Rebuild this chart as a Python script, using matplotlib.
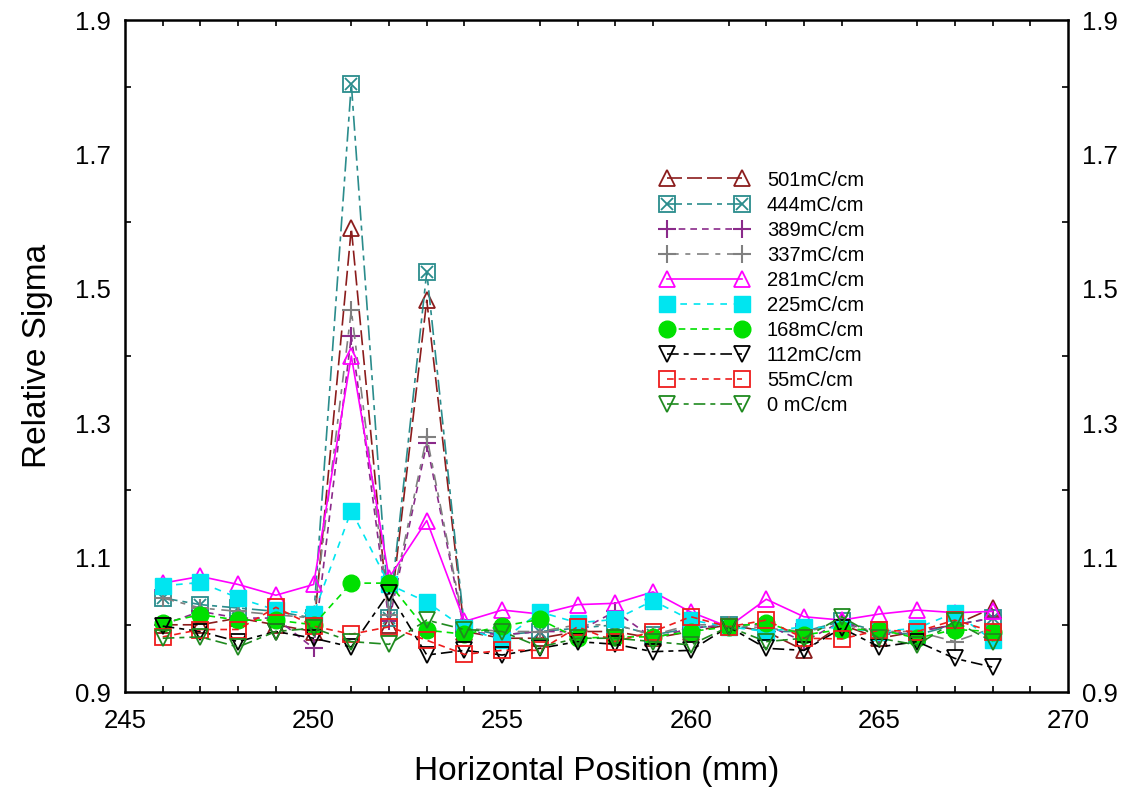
import numpy as np
import matplotlib
matplotlib.use("Agg")
import matplotlib.pyplot as plt
from matplotlib.ticker import MultipleLocator, FixedLocator
from matplotlib.legend_handler import HandlerTuple

plt.rcParams['font.family'] = ['Liberation Sans', 'DejaVu Sans']

# posicoes horizontais (mm)
pos = np.arange(246, 269)

labels = ["501mC/cm", "444mC/cm", "389mC/cm", "337mC/cm", "281mC/cm",
          "225mC/cm", "168mC/cm", "112mC/cm", "55mC/cm", "0 mC/cm"]

s501 = [1.00, 1.00, 1.01, 1.00, 0.99, 1.59, 1.00, 1.483, 0.99, 0.98, 0.98, 0.99,
        0.99, 0.98, 0.99, 1.00, 0.99, 0.962, 1.00, 0.98, 0.99, 1.00, 1.025]
s444 = [1.04, 1.03, 1.025, 1.02, 1.01, 1.805, 1.01, 1.525, 0.995, 0.985, 0.99, 0.995,
        1.00, 0.985, 0.995, 1.00, 0.99, 0.99, 1.005, 0.99, 0.985, 1.00, 1.01]
s389 = [1.00, 1.02, 1.01, 1.01, 0.965, 1.43, 1.005, 1.27, 0.99, 0.985, 0.99, 0.99,
        1.02, 0.98, 0.995, 1.00, 1.00, 0.975, 1.005, 0.985, 0.99, 1.00, 1.01]
s337 = [1.04, 1.025, 1.02, 1.015, 1.01, 1.468, 1.015, 1.28, 0.995, 0.99, 0.99, 1.00,
        1.00, 0.985, 1.00, 1.00, 0.995, 0.99, 1.00, 0.99, 0.99, 0.975, 0.995]
s281 = [1.062, 1.072, 1.06, 1.044, 1.06, 1.40, 1.07, 1.155, 1.005, 1.022, 1.016, 1.03,
        1.032, 1.049, 1.019, 0.997, 1.038, 1.012, 1.007, 1.016, 1.022, 1.018, 1.02]
s225 = [1.058, 1.063, 1.04, 1.022, 1.016, 1.17, 1.06, 1.034, 0.995, 0.977, 1.019, 1.003,
        1.008, 1.036, 1.007, 0.997, 0.99, 0.997, 0.995, 0.99, 0.995, 1.018, 0.977]
s168 = [1.003, 1.015, 1.007, 1.007, 1.0, 1.062, 1.062, 0.992, 0.986, 0.998, 1.008, 0.98,
        0.982, 0.982, 0.99, 0.997, 1.003, 0.985, 0.993, 0.993, 0.98, 0.993, 0.99]
s112 = [0.998, 0.99, 0.975, 0.99, 0.98, 0.967, 1.048, 0.955, 0.962, 0.955, 0.965, 0.975,
        0.971, 0.96, 0.962, 0.997, 0.965, 0.962, 0.995, 0.967, 0.975, 0.95, 0.937]
s55 = [0.982, 0.993, 0.993, 1.026, 0.998, 0.986, 0.997, 0.977, 0.956, 0.962, 0.962, 0.997,
       0.975, 0.99, 1.012, 0.997, 1.007, 0.98, 0.979, 0.992, 0.99, 1.007, 0.99]
s0 = [0.98, 0.982, 0.967, 0.99, 0.995, 0.975, 0.971, 1.007, 0.993, 0.99, 0.967, 0.98,
      0.98, 0.975, 0.97, 0.997, 0.975, 0.98, 1.012, 0.98, 0.97, 1.005, 0.975]

series = [s501, s444, s389, s337, s281, s225, s168, s112, s55, s0]

# estilo de cada serie: cor, linha, marcador, preenchido
styles = [
    ("#8b1c1c", (0, (9, 3)), "^", False),
    ("#2a8c8c", (0, (9, 3, 3, 3)), "s", False),
    ("#8a2a8a", (0, (4, 3)), "+", True),
    ("#808080", (0, (7, 4, 3, 4)), "+", True),
    ("#ff00ff", "-", "^", False),
    ("#00e5f0", (0, (4, 4)), "s", True),
    ("#00e000", (0, (4, 3)), "o", True),
    ("#000000", (0, (7, 3, 3, 3)), "v", False),
    ("#ee1c1c", (0, (4, 3)), "s", False),
    ("#1f8a1f", (0, (7, 3, 3, 3)), "v", False),
]

fig = plt.figure(figsize=(11.22, 7.96), dpi=100)
ax = fig.add_axes([125 / 1122, 1 - 692 / 796, 943 / 1122, 672 / 796])

handles = []
for vals, lab, (c, ls, m, filled) in zip(series, labels, styles):
    kw = dict(color=c, linestyle=ls, linewidth=1.2, marker=m)
    if m == "+":
        kw.update(markersize=13, markeredgewidth=1.5)
    elif filled:
        kw.update(markersize=11 if m == "s" else 12, markerfacecolor=c, markeredgecolor=c)
    else:
        kw.update(markersize=11, markerfacecolor="none", markeredgecolor=c, markeredgewidth=1.3)
    line, = ax.plot(pos, vals, label=lab, **kw)
    if lab.startswith("444"):
        # quadrado com X dentro
        xl, = ax.plot(pos, vals, linestyle="none", marker="x", markersize=8,
                      markeredgecolor=c, markeredgewidth=1.3)
        handles.append((line, xl))
    else:
        handles.append(line)

ax.set_xlim(245, 270)
ax.set_ylim(0.9, 1.9)
ax.xaxis.set_major_locator(FixedLocator([245, 250, 255, 260, 265, 270]))
ax.xaxis.set_minor_locator(MultipleLocator(1))
ax.yaxis.set_major_locator(FixedLocator([0.9, 1.1, 1.3, 1.5, 1.7, 1.9]))
ax.yaxis.set_minor_locator(MultipleLocator(0.1))
ax.set_yticklabels(["0.9", "1.1", "1.3", "1.5", "1.7", "1.9"])

ax.tick_params(which="both", direction="in", top=True, right=True,
               labelright=True, labelsize=18.5, width=1.2)
ax.tick_params(axis="y", pad=10)
ax.tick_params(axis="x", pad=12)
ax.tick_params(which="major", length=0)
ax.tick_params(which="minor", length=4)
for sp in ax.spines.values():
    sp.set_linewidth(1.8)

ax.set_xlabel("Horizontal Position (mm)", fontsize=24, labelpad=17)
ax.set_ylabel("Relative Sigma", fontsize=24, labelpad=16)

ax.legend(handles, labels, handler_map={tuple: HandlerTuple(ndivide=1)},
          loc="upper left", bbox_to_anchor=(0.56, 0.788), frameon=False,
          numpoints=2, handlelength=4.3, handletextpad=0.95, labelspacing=0.3,
          fontsize=14.5, borderaxespad=0)

fig.savefig("out.png", dpi=100)
